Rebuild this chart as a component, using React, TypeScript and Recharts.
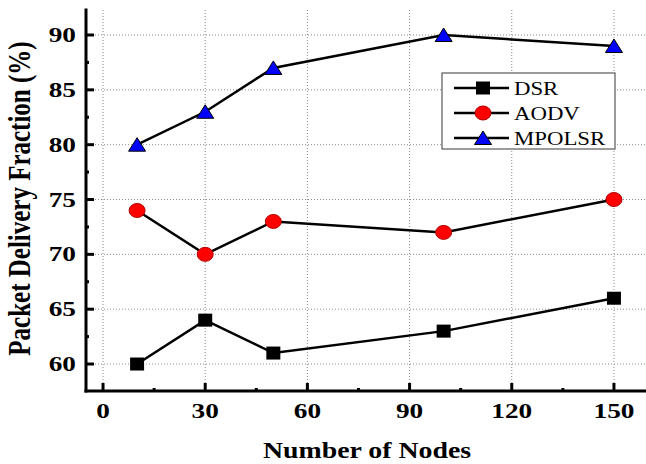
import { LineChart, Line, XAxis, YAxis, CartesianGrid } from 'recharts';

const nodes = [10, 30, 50, 100, 150];
const dsr = [60, 64, 61, 63, 66];
const aodv = [74, 70, 73, 72, 75];
const mpolsr = [80, 83, 87, 90, 89];

const xMajor = [0, 30, 60, 90, 120, 150];
const xMinor = [15, 45, 75, 105, 135];
const yMajor = [60, 65, 70, 75, 80, 85, 90];
const yMinor = [62.5, 67.5, 72.5, 77.5, 82.5, 87.5];

const xTicks = [...xMajor, ...xMinor].sort((a, b) => a - b);
const yTicks = [...yMajor, ...yMinor].sort((a, b) => a - b);

const data = nodes.map((n, i) => ({ n, DSR: dsr[i], AODV: aodv[i], MPOLSR: mpolsr[i] }));

const FONT = '"Liberation Serif", "Times New Roman", serif';

type Shape = 'square' | 'circle' | 'triangle';
const series: { key: string; shape: Shape }[] = [
  { key: 'DSR', shape: 'square' },
  { key: 'AODV', shape: 'circle' },
  { key: 'MPOLSR', shape: 'triangle' },
];

function Marker({ cx, cy, shape }: { cx: number; cy: number; shape: Shape }) {
  if (shape === 'square') return <rect x={cx - 7} y={cy - 6.5} width={14} height={13} fill="#000" />;
  if (shape === 'circle') return <ellipse cx={cx} cy={cy} rx={8} ry={7} fill="#ff0000" stroke="#b00000" strokeWidth={1} />;
  return <polygon points={`${cx - 8.5},${cy + 6.5} ${cx + 8.5},${cy + 6.5} ${cx},${cy - 7}`} fill="#0000ff" stroke="#000" strokeWidth={1} />;
}

const isMajorX = (v: number) => xMajor.includes(v);
const isMajorY = (v: number) => yMajor.includes(v);

function BottomTick(p: any) {
  const major = isMajorX(p.payload.value);
  return (
    <g>
      <line x1={p.x} x2={p.x} y1={p.y} y2={p.y - (major ? 8 : 3)} stroke="#000" strokeWidth={3} />
      {major && (
        <text transform={`translate(${p.x},${p.y + 27}) scale(1.3,1)`} textAnchor="middle" fontFamily={FONT} fontWeight="bold" fontSize={21} fill="#000">
          {p.payload.value}
        </text>
      )}
    </g>
  );
}

function TopTick(p: any) {
  const major = isMajorX(p.payload.value);
  return <line x1={p.x} x2={p.x} y1={p.y} y2={p.y + (major ? 8 : 3)} stroke="#000" strokeWidth={3} />;
}

function LeftTick(p: any) {
  const major = isMajorY(p.payload.value);
  return (
    <g>
      <line x1={p.x} x2={p.x + (major ? 8 : 3)} y1={p.y} y2={p.y} stroke="#000" strokeWidth={3} />
      {major && (
        <text transform={`translate(${p.x - 10},${p.y + 7}) scale(1.3,1)`} textAnchor="end" fontFamily={FONT} fontWeight="bold" fontSize={21} fill="#000">
          {p.payload.value}
        </text>
      )}
    </g>
  );
}

function RightTick(p: any) {
  const major = isMajorY(p.payload.value);
  return <line x1={p.x} x2={p.x - (major ? 8 : 3)} y1={p.y} y2={p.y} stroke="#000" strokeWidth={3} />;
}

const axisLine = { stroke: '#000', strokeWidth: 3, strokeLinecap: 'square' as const };

function LegendBox() {
  return (
    <svg width={176} height={80} style={{ position: 'absolute', left: 441, top: 72 }}>
      <rect x={1} y={1} width={173} height={76} fill="#fff" stroke="#666" strokeWidth={1.3} />
      {series.map((s, i) => {
        const cy = 16 + i * 25;
        return (
          <g key={s.key}>
            <line x1={13} x2={68} y1={cy} y2={cy} stroke="#000" strokeWidth={2.5} />
            <Marker cx={42} cy={cy} shape={s.shape} />
            <text transform={`translate(73,${cy + 7}) scale(1.2,1)`} fontFamily={FONT} fontSize={19} fill="#000">
              {s.key}
            </text>
          </g>
        );
      })}
    </svg>
  );
}

export default function App() {
  return (
    <div style={{ position: 'fixed', left: 0, top: 0, width: 646, height: 464, overflow: 'hidden', background: '#fff' }}>
      <LineChart width={660} height={464} data={data} margin={{ top: 10, right: 12, left: 0, bottom: 0 }}>
        <CartesianGrid
          stroke="#8a8a8a"
          strokeDasharray="1 2"
          horizontalValues={yMajor}
          verticalValues={xMajor}
        />
        <XAxis
          dataKey="n"
          type="number"
          domain={[-5, 160]}
          allowDataOverflow
          ticks={xTicks}
          interval={0}
          height={73}
          tickSize={0}
          tickMargin={0}
          axisLine={axisLine}
          tick={(p: any) => <BottomTick {...p} />}
          label={(props: any) => {
            const vb = props.viewBox;
            return (
              <text transform={`translate(${vb.x + vb.width / 2},${vb.y + 67}) scale(1.16,1)`} textAnchor="middle" fontFamily={FONT} fontWeight="bold" fontSize={24} fill="#000">
                Number of Nodes
              </text>
            );
          }}
        />
        <XAxis
          xAxisId="top"
          orientation="top"
          dataKey="n"
          type="number"
          domain={[-5, 160]}
          allowDataOverflow
          ticks={xTicks}
          interval={0}
          height={0}
          tickSize={0}
          tickMargin={0}
          axisLine={axisLine}
          tick={(p: any) => <TopTick {...p} />}
        />
        <YAxis
          type="number"
          domain={[57.54, 92.28]}
          allowDataOverflow
          ticks={yTicks}
          interval={0}
          width={86}
          tickSize={0}
          tickMargin={0}
          axisLine={axisLine}
          tick={(p: any) => <LeftTick {...p} />}
          label={(props: any) => {
            const vb = props.viewBox;
            return (
              <text transform={`translate(30,${vb.y + vb.height / 2 - 2}) rotate(-90) scale(1,1.25)`} textAnchor="middle" fontFamily={FONT} fontWeight="bold" fontSize={25} fill="#000">
                Packet Delivery Fraction (%)
              </text>
            );
          }}
        />
        <YAxis
          yAxisId="right"
          orientation="right"
          type="number"
          domain={[57.54, 92.28]}
          allowDataOverflow
          ticks={yTicks}
          interval={0}
          width={0}
          tickSize={0}
          tickMargin={0}
          axisLine={axisLine}
          tick={(p: any) => <RightTick {...p} />}
        />
        {series.map((s) => (
          <Line
            key={s.key}
            dataKey={s.key}
            stroke="#000"
            strokeWidth={2.5}
            isAnimationActive={false}
            dot={(p: any) => <Marker key={`${s.key}-${p.index}`} cx={p.cx} cy={p.cy} shape={s.shape} />}
            activeDot={false}
          />
        ))}
      </LineChart>
      <LegendBox />
    </div>
  );
}
